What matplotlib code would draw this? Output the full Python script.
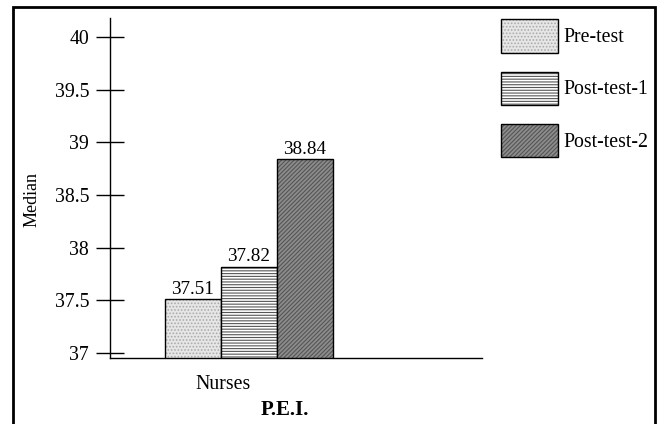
import matplotlib
matplotlib.use('Agg')
import matplotlib.pyplot as plt
from matplotlib.patches import Patch, Rectangle

# median P.E.I. scores for the nurses group
groups = ['Nurses']
series = ['Pre-test', 'Post-test-1', 'Post-test-2']
medians = [37.51, 37.82, 38.84]
yticks = [37, 37.5, 38, 38.5, 39, 39.5, 40]

# fill, hatch pattern, hatch colour per series
styles = [
    ('#e6e6e6', '.....', '#ababab'),
    ('#ffffff', '------', '#555555'),
    ('#8c8c8c', '////////', '#555555'),
]

plt.rcParams['font.family'] = 'Liberation Serif'
plt.rcParams['font.size'] = 14.3
plt.rcParams['hatch.linewidth'] = 0.8

fig = plt.figure(figsize=(6.59, 4.24), dpi=100)
ax = fig.add_axes([110 / 659, 66 / 424, 372 / 659, 340 / 424])

width = 1.0
handles = []
for i, (name, val, (fc, hatch, hc)) in enumerate(zip(series, medians, styles)):
    x = (i - 1) * width
    # hatch layer first, then a plain black outline on top
    ax.bar(x, val, width, color=fc, edgecolor=hc, hatch=hatch, linewidth=0)
    outline = ax.bar(x, val, width, fill=False, edgecolor='black', linewidth=1.0)
    ax.bar_label(outline, labels=['%.2f' % val], padding=1, fontsize=13.8)
    handles.append((Patch(facecolor=fc, edgecolor=hc, hatch=hatch, linewidth=0),
                    Patch(fill=False, edgecolor='black', linewidth=1.0)))

ax.set_xlim(-2.48, 4.16)
ax.set_ylim(36.953, 40.18)

ax.set_yticks(yticks)
ax.set_yticklabels(['%g' % t for t in yticks])
ax.tick_params(axis='y', direction='inout', length=20, width=1, pad=5)

ax.set_xticks([-0.46])
ax.set_xticklabels(groups)
ax.tick_params(axis='x', length=0, pad=12)

for side in ['top', 'right']:
    ax.spines[side].set_visible(False)
ax.spines['left'].set_linewidth(1)
ax.spines['bottom'].set_linewidth(1)

ax.set_ylabel('Median', fontsize=13)
ax.yaxis.set_label_coords(-0.21, 0.465)
ax.yaxis.label.set_va('center')

ax.set_xlabel('P.E.I.', fontsize=15, fontweight='bold')
ax.xaxis.set_label_coords(0.47, -0.124)

ax.legend(handles, series, loc='upper left', bbox_to_anchor=(1.03, 1.019),
          frameon=False, handlelength=2.85, handleheight=2.2,
          labelspacing=0.95, handletextpad=0.3, borderaxespad=0,
          fontsize=14.3)

# outer frame around the whole figure
fig.add_artist(Rectangle((13 / 659, -0.05), 642 / 659, 0.9835 + 0.05,
                         transform=fig.transFigure, fill=False,
                         edgecolor='black', linewidth=2))

fig.savefig('out.png', dpi=100)
